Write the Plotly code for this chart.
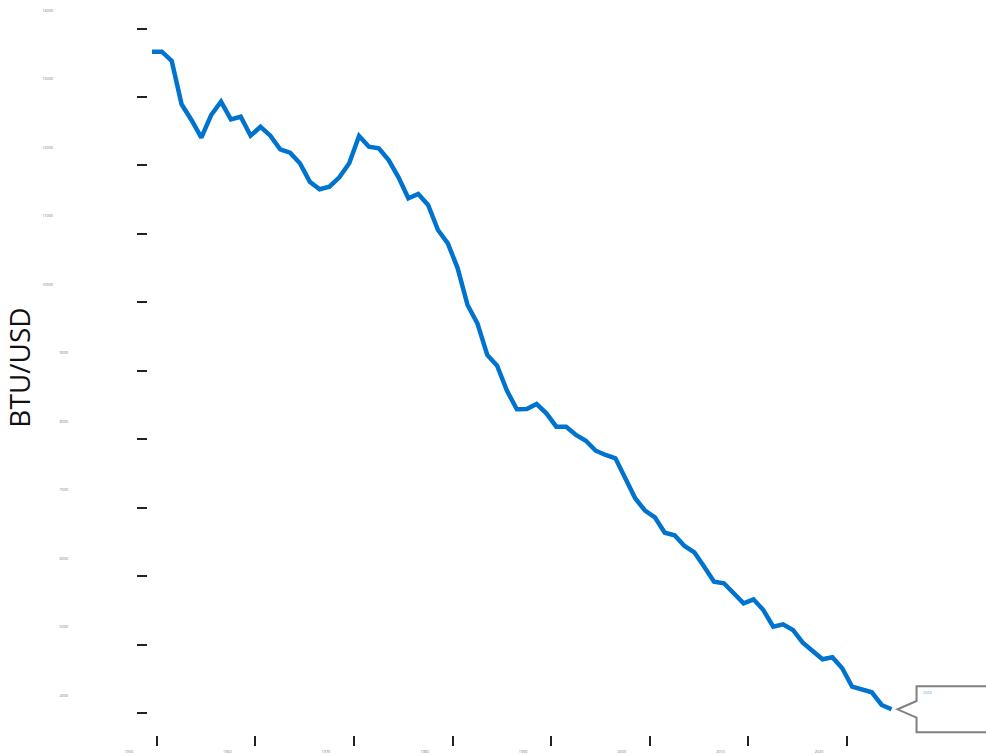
import plotly.graph_objects as go

years = list(range(1949, 2025))
btu_per_usd = [
    13661, 13661, 13526, 12893, 12664, 12406, 12737, 12931, 12674, 12712,
    12435, 12566, 12435, 12236, 12187, 12032, 11764, 11653, 11691, 11828,
    12032, 12431, 12274, 12251, 12080, 11828, 11521, 11584, 11423, 11058,
    10864, 10499, 9964, 9696, 9234, 9077, 8712, 8441, 8445, 8518,
    8382, 8187, 8187, 8066, 7982, 7836, 7774, 7726, 7434, 7142,
    6961, 6864, 6639, 6601, 6445, 6353, 6143, 5924, 5901, 5763,
    5609, 5667, 5511, 5267, 5302, 5219, 5034, 4912, 4791, 4820,
    4660, 4391, 4353, 4309, 4124, 4061,
]

x_tick_labels = ["1950", "1960", "1970", "1980", "1990", "2000", "2010", "2020"]
y_tick_values = [14000, 13000, 12000, 11000, 10000, 9000, 8000, 7000, 6000, 5000, 4000]
callout_text = "2024"

pad = "\u2003" * 4
y_tick_text = [f"{v}{pad}" if v >= 10000 else str(v) for v in y_tick_values]
x_tick_vals = [int(t) - 0.52 for t in x_tick_labels]

fig = go.Figure()
fig.add_trace(go.Scatter(
    x=years, y=btu_per_usd, mode="lines",
    line=dict(color="#0073cf", width=4.5),
    showlegend=False, hoverinfo="skip",
))

# callout anchored at last data point
fig.add_shape(
    type="path", xref="x", yref="y",
    xsizemode="pixel", ysizemode="pixel",
    xanchor=years[-1], yanchor=btu_per_usd[-1],
    path="M 25,8.3 L 25,23 L 140,23 L 140,-23 L 25,-23 L 25,-8.3 L 6,0 Z",
    line=dict(color="#808080", width=2), fillcolor="white", layer="above",
)
fig.add_annotation(
    x=years[-1], y=btu_per_usd[-1], xref="x", yref="y",
    text=callout_text, showarrow=False, xanchor="left", yanchor="middle",
    xshift=29, yshift=17, font=dict(size=3.8, color="#5a9fdc"),
)

fig.update_layout(
    width=986, height=755,
    margin=dict(l=148, r=0, t=0, b=20),
    paper_bgcolor="white", plot_bgcolor="white",
    font=dict(family="Open Sans", color="#222"),
    xaxis=dict(
        range=[1948.594, 2033.58],
        tickmode="array", tickvals=x_tick_vals, ticktext=x_tick_labels,
        ticks="outside", ticklen=10, tickwidth=2, tickcolor="#222",
        tickfont=dict(size=3.8, color="#777"),
        ticklabelshift=-28, ticklabelstandoff=2,
        showgrid=False, zeroline=False, showline=False,
    ),
    yaxis=dict(
        range=[3686, 14416],
        tickmode="array", tickvals=y_tick_values, ticktext=y_tick_text,
        ticks="outside", ticklen=10, tickwidth=1.5, tickcolor="#222",
        tickfont=dict(size=3.8, color="#777"),
        ticklabelshift=-18, ticklabelstandoff=68,
        showgrid=False, zeroline=False, showline=False,
        title=dict(text="BTU/USD", font=dict(size=28, color="#111"), standoff=3),
    ),
)

fig.write_html("out.html", config={"displayModeBar": False},
               post_script="document.body.style.margin='0px';")
